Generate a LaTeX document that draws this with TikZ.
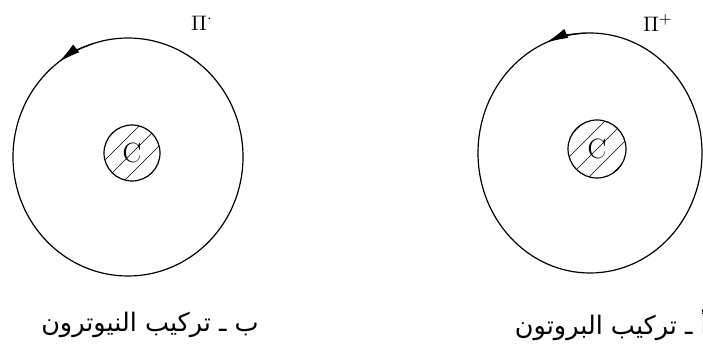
\documentclass[tikz,border=0pt]{standalone}
\usepackage{fontspec}
\usepackage{graphicx}
\TeXXeTstate=1
\newfontfamily\arabicfont[Script=Arabic]{DejaVu Sans}
\usetikzlibrary{arrows.meta,calc}
\tikzset{
  orbit/.style={line width=1.2pt},
  core/.style={circle,draw,line width=1.2pt,inner sep=0pt},
  hatch/.style={line width=0.6pt},
  orbarrow/.style={line width=1.2pt,-{Latex[length=22pt,width=10pt]}},
  lbl/.style={font=\arabicfont\fontsize{25.5}{30}\selectfont,inner sep=0pt},
  pilbl/.style={inner sep=0pt},
  clbl/.style={font=\fontsize{28}{32}\selectfont,inner sep=0pt}
}
\begin{document}
\begin{tikzpicture}[x=1pt,y=1pt]
\useasboundingbox (0,0) rectangle (703,345);
\clip (0,0) rectangle (703,345);
% left: neutron
\coordinate (cL) at (128,188);
\draw[orbit] (cL) ellipse [x radius=115, y radius=119];
\draw[orbarrow] ($(cL)+({115*cos(108)},{119*sin(108)})$) arc[start angle=108,end angle=127,x radius=115,y radius=119];
\node[core,minimum size=56pt] (nL) at (132,192) {};
\begin{scope}
  \clip (nL.center) circle (28);
  \foreach \d in {-20,-10,...,20} {
    \draw[hatch] ($(nL.center)+(\d,-\d)+(-35,-35)$) -- ++(70,70);
  }
\end{scope}
\node[clbl] (cLt) at (nL.center) {C};
\node[pilbl] (piL) at (202,322) {\scalebox{2.1}{$\Pi^{\cdot}$}};
\node[lbl] (labL) at (150,20) {\beginR ب ـ تركيب النيوترون\endR};
% right: proton
\coordinate (cR) at (590,192);
\draw[orbit] (cR) ellipse [x radius=112, y radius=120];
\draw[orbarrow] ($(cR)+({112*cos(92)},{120*sin(92)})$) arc[start angle=92,end angle=113,x radius=112,y radius=120];
\node[core,minimum size=58pt] (nR) at (597,196) {};
\begin{scope}
  \clip (nR.center) circle (29);
  \foreach \d in {-20,-10,...,20} {
    \draw[hatch] ($(nR.center)+(\d,-\d)+(-35,-35)$) -- ++(70,70);
  }
\end{scope}
\node[clbl] (cRt) at (nR.center) {C};
\node[pilbl] (piR) at (658,322) {\scalebox{2.1}{$\Pi^{+}$}};
\node[lbl,anchor=east] (labR) at (708,20) {\beginR أ ـ تركيب البروتون\endR};
\end{tikzpicture}
\end{document}
